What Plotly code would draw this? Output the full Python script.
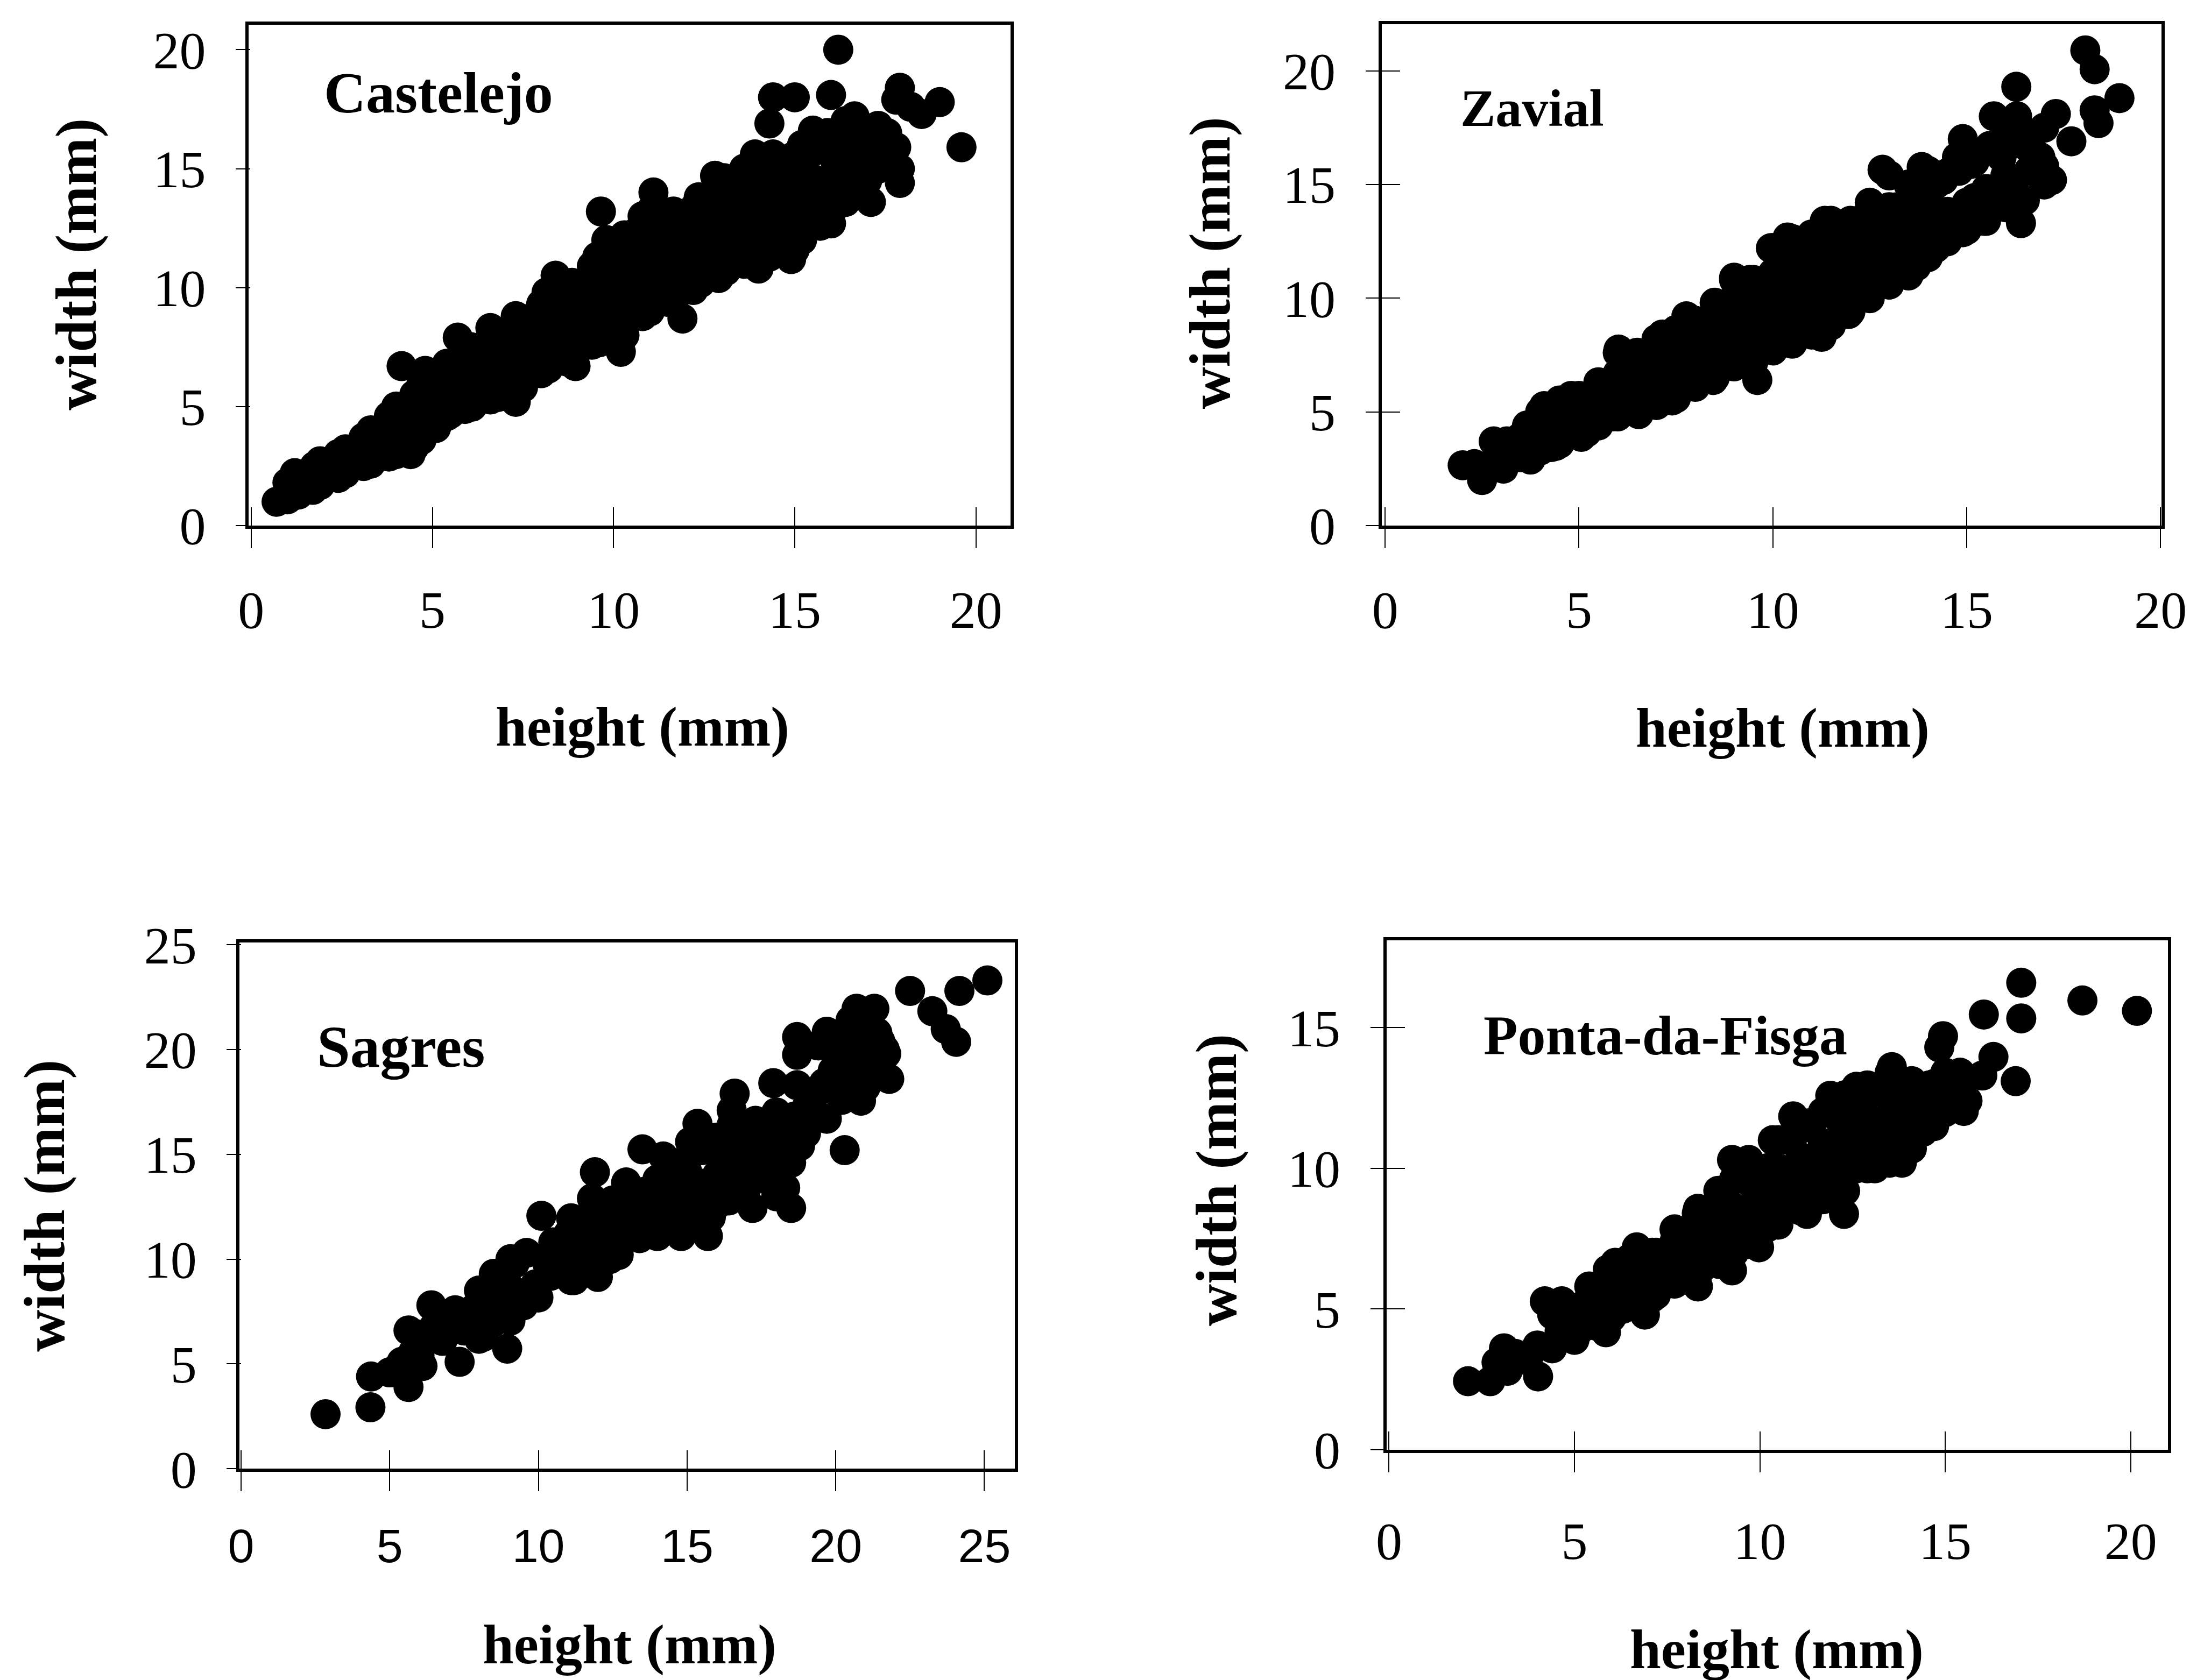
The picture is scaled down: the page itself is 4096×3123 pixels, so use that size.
import plotly.graph_objects as go

REF_W, REF_H = 4130, 3149
WIDTH, HEIGHT = 4096, 3123

# ---------- values ----------
castelejo_h = [16.2,19.6,14.4,15.0,16.0,14.3,17.9,17.8,19.0,18.5,18.2,17.9,17.9,17.1,16.0,14.9,14.0,11.9,10.2,8.95,7.3,5.1,4.4,
 4.15,4.8,5.7,6.6,7.3,8.4,9.65,9.8,11.1,10.8,12.8,13.6,13.9,14.4,15.5,16.65,17.0,17.5,
 0.7,1.0,1.0,1.0,1.2,1.7,1.7,1.75,2.4,2.45,2.4,3.1,3.05,3.1,3.8,3.75,3.8,4.5,4.55,4.5,5.2,5.15,5.2,5.9,5.95,5.9,6.6,6.55,6.6,7.3,7.3,
 7.35,8.0,8.05,8.0,8.7,8.7,8.65,9.4,9.35,9.4,10.1,10.1,10.15,10.8,10.8,10.85,11.5,11.45,11.5,12.2,12.2,12.25,12.9,12.85,12.9,13.6,13.6,13.65,
 14.3,14.3,14.25,15.0,15.0,14.95,15.7,15.65,15.7,16.4,16.35,16.4,17.0,17.05,17.6,17.55,13.0,12.5,11.9,11.0,9.0,8.3,7.0,6.2,5.5,
 1.3,1.35,1.9,1.95,1.9,2.6,2.65,2.6,3.3,3.35,3.3,3.3,4.0,4.05,4.0,4.0,4.7,4.75,4.7,4.7,5.4,5.45,5.4,5.4,
 6.1,6.15,6.1,6.1,6.05,6.8,6.85,6.8,6.8,6.75,7.5,7.55,7.5,7.5,7.45,8.2,8.25,8.2,8.2,8.15,8.9,8.95,8.9,8.9,8.85,
 9.6,9.65,9.6,9.6,9.55,10.3,10.35,10.3,10.3,10.25,10.3,11.0,11.05,11.0,11.0,10.95,11.0,11.7,11.75,11.7,11.7,11.65,
 12.4,12.45,12.4,12.4,12.35,13.1,13.15,13.1,13.1,13.05,13.8,13.85,13.8,13.8,13.75,14.5,14.55,14.5,14.5,15.2,15.25,15.2,15.2,
 15.9,15.95,15.9,16.6,16.65,16.6,17.3,17.3,9.0,10.0,11.0,12.0,13.0,14.0,15.0,
 5.0,5.0,5.0,5.7,5.7,5.7,6.4,6.4,6.4,7.1,7.1,7.1,7.8,7.8,7.8,8.5,8.5,8.5,9.1,9.1,9.1,9.9,9.9,9.9,
 10.6,10.6,10.6,10.6,11.3,11.3,11.3,11.3,12.0,12.0,12.0,12.0,12.6,12.6,12.6,12.6,13.3,13.3,13.3,13.3,14.0,14.0,14.0,14.0,
 14.7,14.7,14.7,14.7,15.4,15.4,15.4,15.4,16.1,16.1,16.1,16.1,16.8,16.8,16.8,17.4,17.4,17.8,15.2,16.3]
castelejo_w = [20.0,15.9,18.0,18.0,18.1,16.9,18.4,17.9,17.8,17.3,17.6,14.4,15.0,13.6,12.7,11.2,10.8,8.7,7.3,6.7,5.2,4.1,3.0,
 6.7,6.5,7.9,8.3,8.8,10.5,13.2,12.0,14.0,13.0,14.7,15.0,15.6,15.6,16.6,17.2,16.5,16.3,
 1.0,1.1,1.4,1.8,2.2,1.5,2.0,2.5,2.0,2.6,3.0,2.5,3.1,3.7,2.9,3.6,4.6,3.3,4.5,5.5,4.4,5.3,6.4,4.9,6.0,7.3,5.3,6.5,7.8,5.6,7.0,
 8.4,6.4,7.8,9.3,6.9,8.4,9.9,7.6,9.2,10.9,8.0,9.9,11.5,8.8,10.5,12.8,9.4,11.0,13.0,9.9,11.6,13.4,10.4,12.2,14.3,11.0,12.9,14.7,
 11.3,13.4,15.3,11.6,14.0,15.5,12.6,14.5,16.3,13.6,15.0,17.0,14.5,15.8,15.6,16.5,11.3,10.8,10.2,9.2,7.4,7.0,5.8,5.2,4.7,
 1.3,2.1,1.7,2.2,2.7,2.2,2.7,3.2,2.6,3.1,3.6,4.0,3.0,3.6,4.2,5.0,3.6,4.3,5.0,6.0,4.6,5.3,6.0,6.8,
 5.0,5.7,6.4,7.0,7.5,5.4,6.1,6.8,7.4,8.0,5.8,6.6,7.3,8.0,8.7,6.6,7.4,8.2,9.0,9.8,7.0,7.9,8.7,9.5,10.2,
 7.7,8.5,9.4,10.3,11.3,8.0,8.9,9.8,10.7,11.5,12.2,9.0,9.9,10.8,11.7,12.5,13.2,9.6,10.5,11.4,12.3,13.2,
 10.2,11.1,12.0,12.9,13.8,10.7,11.7,12.7,13.7,14.6,11.2,12.2,13.2,14.1,15.0,11.8,12.9,14.3,15.4,12.0,13.2,14.6,16.0,
 13.0,14.0,16.5,14.0,15.5,16.9,15.0,16.8,10.0,11.0,12.0,12.5,13.5,14.5,15.0,
 4.3,5.0,5.7,5.0,5.8,6.6,5.7,6.5,7.2,6.0,6.8,7.6,6.6,7.4,8.2,7.2,8.2,9.2,7.5,8.5,9.5,8.2,9.2,10.2,
 9.3,10.3,11.3,12.3,9.5,10.5,11.5,12.5,10.3,11.2,12.1,13.0,10.7,11.6,12.5,13.4,11.2,12.0,13.0,14.0,11.6,12.5,13.5,14.5,
 12.0,13.0,14.0,15.0,12.6,13.6,14.6,15.6,13.4,14.4,15.4,16.4,14.3,15.0,16.0,15.2,16.0,15.9,13.0,14.0]

zavial_h = [18.06,18.3,18.94,18.3,18.4,16.28,15.7,16.3,17.3,17.7,17.2,16.4,14.9,14.75,12.83,13.84,15.6,
 11.34,10.38,9.95,9.0,9.4,7.77,7.15,6.02,6.5,4.8,4.1,3.66,2.8,3.14,2.0,2.5,
 9.6,11.26,11.95,13.0,13.7,14.4,15.45,8.46,7.4,6.54,5.85,5.06,4.28,3.75,3.05,
 2.3,2.9,3.5,4.2,4.9,5.5,6.1,6.8,7.5,8.2,8.9,9.6,10.3,11.0,11.7,12.4,13.1,13.8,14.5,15.2,15.9,16.6,17.0,
 4.4,5.2,5.9,6.5,7.2,7.9,8.6,9.3,10.0,10.7,11.4,12.1,12.8,13.5,14.2,14.9,15.6,16.3,16.9,
 12.2,13.0,13.6,14.4,15.1,15.9,16.6,11.6,10.6,9.0,8.0,
 3.0,3.0,3.5,3.5,4.0,4.0,4.0,4.5,4.5,4.5,5.0,5.0,5.0,5.5,5.5,5.5,6.0,6.0,6.0,6.0,6.5,6.5,6.5,6.5,
 7.0,7.0,7.0,7.0,7.5,7.5,7.5,7.5,8.0,8.0,8.0,8.0,8.5,8.5,8.5,8.5,9.0,9.0,9.0,9.0,9.0,9.5,9.5,9.5,9.5,9.5,
 10.0,10.0,10.0,10.0,10.0,10.5,10.5,10.5,10.5,10.5,11.0,11.0,11.0,11.0,11.0,11.5,11.5,11.5,11.5,11.5,
 12.0,12.0,12.0,12.0,12.0,12.5,12.5,12.5,12.5,12.5,13.0,13.0,13.0,13.0,13.5,13.5,13.5,13.5,13.5,
 14.0,14.0,14.0,14.0,14.5,14.5,14.5,15.0,15.0,15.0,15.5,15.5,15.5,16.0,16.0,16.0,16.5,16.5,17.0,17.0,
 7.3,7.8,8.3,8.8,9.2,9.8,10.2,10.8,11.2,11.8,12.2,12.8,13.2,13.8,14.2,14.8,15.2,15.8,16.2,16.8,
 7.3,7.8,8.3,8.8,9.2,9.8,10.2,10.8,11.2,11.8,12.2,12.8,13.2,13.8,14.2,14.8,15.2,15.8,16.2,16.8]
zavial_w = [20.9,20.07,18.8,18.26,17.7,19.3,18.0,18.0,18.1,16.9,15.2,13.3,17.0,16.2,15.65,15.77,16.7,
 13.4,12.67,12.2,10.9,10.8,9.2,8.4,7.74,7.5,5.7,5.25,4.4,3.7,3.7,2.65,2.0,
 6.4,8.3,9.3,10.6,11.4,12.5,13.4,6.4,5.5,4.9,4.8,3.9,3.45,2.9,2.5,
 2.7,3.0,3.5,4.1,4.7,5.4,6.2,6.7,7.4,8.1,8.8,9.4,10.1,10.7,11.4,12.0,12.5,13.1,13.8,14.4,15.0,15.6,15.8,
 3.5,4.1,5.0,5.5,6.0,6.6,7.2,7.8,8.4,9.1,9.6,10.2,10.9,11.5,12.2,12.9,13.9,14.5,16.2,
 13.4,14.0,14.6,15.2,15.9,16.2,16.6,12.8,11.7,10.0,9.0,
 2.7,3.5,3.0,3.9,3.3,4.1,5.0,3.6,4.5,5.5,4.0,4.9,5.7,4.4,5.3,6.3,4.8,5.7,6.7,7.6,5.0,5.9,6.8,7.6,
 5.3,6.2,7.2,8.2,5.6,6.6,7.6,8.6,6.1,7.1,8.0,9.0,6.5,7.5,8.6,9.8,7.0,7.9,8.8,9.8,10.8,7.2,8.1,9.0,9.9,10.8,
 7.7,8.8,10.0,11.1,12.2,8.0,9.2,10.3,11.5,12.6,8.4,9.5,10.6,11.7,12.8,8.8,10.0,11.1,12.3,13.4,
 9.4,10.4,11.4,12.4,13.4,10.0,11.1,12.2,13.2,14.2,10.6,11.8,13.0,15.4,11.0,12.0,13.0,14.0,15.0,
 11.8,12.9,14.0,15.6,12.5,13.6,15.5,13.0,14.2,16.5,13.4,14.8,16.5,14.0,15.4,17.0,14.3,17.3,15.0,17.5,
 6.4,7.0,7.4,8.0,8.4,9.0,9.5,10.0,10.5,11.0,11.4,12.0,12.4,12.9,13.4,13.8,14.3,14.8,15.2,15.6,
 7.8,8.4,8.9,9.4,9.9,10.4,11.0,11.5,12.0,12.6,13.0,13.6,14.0,14.6,15.0,15.6,16.0,16.4,16.8,16.3]

sagres_h = [2.84,4.35,4.37,5.63,5.63,5.4,6.1,6.4,7.2,7.35,6.77,8.95,8.15,8.0,9.06,8.5,10.1,10.0,9.06,9.5,11.1,12.0,11.1,11.9,11.8,
 12.95,13.5,14.2,12.7,14.0,14.8,15.7,15.8,15.35,15.1,16.6,16.5,17.2,18.5,18.3,17.9,18.7,18.7,18.7,19.7,18.8,20.3,19.7,20.7,21.3,
 21.65,20.85,21.2,20.5,19.9,22.5,23.25,23.7,24.05,24.16,25.1,
 5.0,5.8,6.9,7.5,7.9,8.5,8.7,9.0,10.3,10.6,11.0,11.4,11.5,12.0,12.2,12.6,13.0,13.0,13.4,13.6,14.0,14.4,14.4,14.9,15.0,15.3,15.6,
 16.0,16.2,16.4,16.8,17.0,17.4,17.5,17.8,18.2,18.6,19.2,20.0,20.4,20.6,21.0,21.0,21.4,
 10.9,10.4,11.4,12.4,13.4,16.0,17.6,18.3,19.0,20.2,
 5.0,5.5,6.0,6.0,6.5,7.0,7.5,8.0,8.5,8.5,8.9,8.9,9.3,9.9,10.5,10.5,11.0,11.0,11.5,11.5,12.0,12.0,12.5,12.5,12.5,13.0,13.0,13.5,13.5,
 14.0,14.0,14.0,14.5,14.5,14.5,15.0,15.0,15.0,15.5,15.5,15.5,16.0,16.0,16.0,16.5,16.5,16.5,17.0,17.0,17.5,17.5,18.0,18.0,18.0,18.5,18.5,
 19.0,19.0,20.0,20.5,20.5,21.0,21.0,21.5,21.5,20.0,20.5,21.0,
 8.0,8.5,8.9,9.2,9.6,7.8,10.7,11.2,15.7,16.3,16.7,17.3,17.7,17.3,18.0,18.4,19.4,19.6,19.4,21.7,21.8,21.3,20.2]
sagres_w = [2.6,2.93,4.4,3.9,6.6,5.1,4.9,7.8,7.56,5.1,6.1,5.73,6.3,8.5,10.0,9.3,12.07,8.17,7.07,7.8,9.0,9.15,11.95,14.15,12.9,
 13.66,15.24,14.9,10.2,11.1,11.1,11.1,12.0,16.46,15.6,17.9,17.1,12.44,12.44,13.4,18.4,18.3,20.6,19.75,16.7,15.4,15.2,20.85,21.95,21.95,
 20.0,17.56,18.66,20.0,19.0,22.8,21.83,20.98,20.37,22.8,23.3,
 4.6,5.6,6.6,6.6,6.9,7.4,8.0,8.7,9.8,10.6,9.6,11.1,10.1,10.7,11.8,11.0,12.1,13.1,11.9,13.0,12.4,13.6,12.2,13.2,14.2,12.6,13.4,
 13.6,14.8,12.8,14.4,15.6,14.4,16.0,15.0,15.8,16.8,17.6,19.2,19.6,18.6,19.4,20.8,20.8,
 9.6,9.2,10.3,10.0,11.0,13.0,14.0,15.0,16.2,18.2,
 4.6,4.8,5.4,6.4,6.8,6.8,6.6,7.2,7.0,8.2,7.4,9.4,8.2,8.8,9.8,10.8,10.0,11.2,10.4,11.8,10.6,12.6,10.8,11.8,12.8,11.2,12.2,11.8,13.2,
 11.6,12.6,13.8,11.8,13.0,14.2,11.6,13.2,14.8,12.0,13.6,15.2,12.6,14.0,15.8,13.0,14.8,16.4,13.4,15.0,14.2,15.8,14.4,15.6,17.0,14.6,16.2,
 16.0,17.2,18.8,17.8,20.6,18.2,20.0,19.0,20.4,20.2,21.4,21.6,
 6.2,7.6,8.4,9.8,10.3,7.6,9.4,9.0,12.2,15.2,13.4,14.0,13.8,16.6,13.0,15.0,18.0,18.4,20.2,19.8,18.6,19.2,17.6]

fisga_h = [17.05,17.05,16.04,18.7,20.17,16.9,16.3,14.94,14.84,13.56,11.9,15.5,14.57,13.83,13.1,12.27,11.27,9.98,9.25,8.33,6.9,5.85,4.02,
 2.73,2.13,3.1,4.2,4.66,5.4,6.1,6.68,7.7,8.33,8.88,9.25,9.7,10.35,10.9,12.9,
 3.6,4.0,4.6,5.2,5.8,6.4,7.0,7.6,8.2,8.8,9.4,10.0,10.6,11.2,11.8,12.4,13.0,13.6,14.2,14.8,15.4,
 2.9,3.4,4.7,5.1,6.3,6.9,7.4,8.0,8.5,9.1,9.7,10.3,10.9,11.5,12.1,12.7,13.3,13.9,14.5,
 11.3,12.1,13.2,14.2,15.6,7.2,6.2,5.0,14.1,12.6,
 3.2,3.8,4.4,4.4,5.0,5.0,5.6,5.6,6.0,6.0,6.6,6.6,7.2,7.2,7.8,7.8,8.4,8.4,9.0,9.0,9.0,9.6,9.6,9.6,10.2,10.2,10.2,10.8,10.8,10.8,
 11.4,11.4,11.4,12.0,12.0,12.0,12.6,12.6,12.6,13.2,13.2,13.2,13.8,13.8,14.4,14.4,15.0,15.0,15.6,16.0,
 5.3,5.3,5.9,5.9,5.9,6.5,6.5,6.5,7.1,7.1,7.1,7.7,7.7,7.7,8.3,8.3,8.3,8.3,8.9,8.9,8.9,8.9,9.3,9.3,9.3,9.3,9.9,9.9,9.9,9.9,
 10.5,10.5,10.5,10.5,11.1,11.1,11.1,11.1,11.7,11.7,11.7,11.7,12.3,12.3,12.3,12.3,12.3,12.9,12.9,12.9,12.9,13.5,13.5,13.5,13.5,13.5,
 14.1,14.1,14.1,14.1,14.7,14.7,14.7,15.3,15.3]
fisga_w = [16.6,15.33,15.47,15.97,15.6,13.1,13.96,14.7,14.3,13.6,12.58,12.04,12.95,10.2,10.0,8.38,8.38,7.19,6.37,5.8,4.8,4.17,2.6,
 2.43,2.43,3.6,5.27,5.27,5.8,6.64,7.19,7.83,8.56,9.2,10.3,10.3,11.0,11.85,12.95,
 3.2,3.7,4.2,4.7,5.2,5.7,6.2,6.7,7.3,7.8,8.4,9.0,9.6,10.1,10.7,11.2,11.7,12.1,12.5,13.0,13.4,
 3.1,3.4,4.4,4.2,5.0,5.6,6.0,6.6,6.8,7.2,8.0,8.8,9.2,9.8,10.2,10.4,10.8,11.2,11.6,
 11.6,11.8,11.5,11.7,13.2,5.8,5.0,4.0,12.4,12.9,
 2.8,3.4,3.6,4.8,3.9,5.0,4.4,5.6,4.7,6.2,5.1,6.6,5.5,7.0,6.0,7.5,6.4,8.0,6.8,7.9,9.0,7.3,8.4,9.6,7.9,9.0,10.0,8.6,9.8,11.0,
 8.9,10.2,11.6,9.5,10.8,12.2,10.0,11.2,12.4,10.3,11.6,12.9,10.8,12.8,11.3,12.4,12.0,13.4,12.4,13.3,
 4.4,5.2,5.0,5.8,6.4,5.2,6.0,6.8,5.4,6.2,7.0,5.9,6.6,7.4,6.2,7.0,7.8,8.4,6.6,7.4,8.2,9.0,7.0,7.8,8.6,9.6,7.4,8.2,9.0,9.9,
 8.0,9.0,10.0,11.0,8.5,9.4,10.4,11.4,8.9,9.8,10.9,12.0,9.2,10.0,10.9,11.9,12.6,10.0,10.8,11.7,12.6,10.2,11.0,11.9,12.8,13.4,
 10.7,11.6,12.3,13.1,11.5,12.2,13.0,12.3,13.0]

panel_names = ["Castelejo", "Zavial", "Sagres", "Ponta-da-Fisga"]
panel_heights = [castelejo_h, zavial_h, sagres_h, fisga_h]
panel_widths = [castelejo_w, zavial_w, sagres_w, fisga_w]
x_title = "height (mm)"
y_title = "width (mm)"

# ---------- layout, in reference pixels ----------
boxes = [(466, 1894, 46, 985), (2589, 4050, 45, 985), (449, 1902, 1767, 2753), (2598, 4062, 1763, 2717)]
x_ranges = [(-0.07, 20.96), (-0.09, 20.02), (-0.05, 26.03), (-0.07, 21.0)]
y_ranges = [(0, 21.06), (0, 22.06), (0, 25.1), (0, 18.1)]
x_ticks = [[0,5,10,15,20], [0,5,10,15,20], [0,5,10,15,20,25], [0,5,10,15,20]]
y_ticks = [[0,5,10,15,20], [0,5,10,15,20], [0,5,10,15,20,25], [0,5,10,15]]
x_tick_fonts = ["Liberation Serif", "Liberation Serif", "Liberation Sans", "Liberation Serif"]
x_tick_sizes = [98, 98, 88, 98]
y_tick_len_in = [3, 34, 3, 34]
y_tick_len_out = [18, 24, 18, 24]
x_tick_standoff = [31, 31, 26, 44]
y_tick_standoff = [36, 36, 36, 36]
x_title_pos = [(1204, 1362), (3340, 1364), (1180, 3082), (3329, 3092)]
y_title_pos = [(143, 495), (2268, 493), (84, 2260), (2280, 2212)]
name_pos = [(822, 174), (2871, 203), (751, 1962), (3121, 1941)]
name_sizes = [108, 98, 111, 104]
MARKER = 56
LINE = 6
X_TITLE_SIZE = 104
Y_TITLE_SIZE = 108

def px(x): return x / REF_W
def py(y): return 1 - y / REF_H

fig = go.Figure()
layout = {}
annotations = []
for i in range(4):
    k = 2 * i + 1
    over = 2 * i + 2
    xa, ya = f"x{k}", f"y{k}"
    xo, yo = f"x{over}", f"y{over}"
    x0, x1, y0, y1 = boxes[i]
    dom_x = [px(x0), px(x1)]
    dom_y = [py(y1), py(y0)]
    fig.add_trace(go.Scatter(x=panel_heights[i], y=panel_widths[i], mode="markers", xaxis=xa, yaxis=ya,
                             marker=dict(size=MARKER, color="black"), showlegend=False, name=panel_names[i]))
    # empty trace: the overlay axes carry the inner half of the crossing ticks
    fig.add_trace(go.Scatter(x=[], y=[], xaxis=xo, yaxis=yo, showlegend=False))
    layout[f"xaxis{k}"] = dict(domain=dom_x, range=list(x_ranges[i]), anchor=ya, tickmode="array", tickvals=x_ticks[i],
        ticktext=[str(t) for t in x_ticks[i]], ticks="outside", ticklen=36, tickwidth=2, tickcolor="black", automargin=False,
        ticklabelstandoff=x_tick_standoff[i], tickfont=dict(family=x_tick_fonts[i], size=x_tick_sizes[i], color="black"),
        showline=True, linewidth=LINE, linecolor="black", mirror=True, showgrid=False, zeroline=False)
    layout[f"yaxis{k}"] = dict(domain=dom_y, range=list(y_ranges[i]), anchor=xa, tickmode="array", tickvals=y_ticks[i],
        ticktext=[str(t) for t in y_ticks[i]], ticks="outside", ticklen=y_tick_len_out[i], tickwidth=2, tickcolor="black", automargin=False,
        ticklabelstandoff=y_tick_standoff[i], tickfont=dict(family="Liberation Serif", size=98, color="black"),
        showline=True, linewidth=LINE, linecolor="black", mirror=True, showgrid=False, zeroline=False)
    layout[f"xaxis{over}"] = dict(domain=dom_x, range=list(x_ranges[i]), anchor=yo, overlaying=xa, tickmode="array", automargin=False,
        tickvals=x_ticks[i], ticks="inside", ticklen=34, tickwidth=2, tickcolor="black", showticklabels=False,
        showline=False, showgrid=False, zeroline=False)
    layout[f"yaxis{over}"] = dict(domain=dom_y, range=list(y_ranges[i]), anchor=xo, overlaying=ya, tickmode="array", automargin=False,
        tickvals=y_ticks[i], ticks="inside", ticklen=y_tick_len_in[i], tickwidth=2, tickcolor="black", showticklabels=False,
        showline=False, showgrid=False, zeroline=False)
    annotations.append(dict(text=f"<b>{x_title}</b>", x=px(x_title_pos[i][0]), y=py(x_title_pos[i][1]), xref="paper", yref="paper",
                            xanchor="center", yanchor="middle", showarrow=False,
                            font=dict(family="Liberation Serif", size=X_TITLE_SIZE, color="black")))
    annotations.append(dict(text=f"<b>{y_title}</b>", x=px(y_title_pos[i][0]), y=py(y_title_pos[i][1]), xref="paper", yref="paper",
                            xanchor="center", yanchor="middle", showarrow=False, textangle=-90,
                            font=dict(family="Liberation Serif", size=Y_TITLE_SIZE, color="black")))
    annotations.append(dict(text=f"<b>{panel_names[i]}</b>", x=px(name_pos[i][0]), y=py(name_pos[i][1]), xref="paper", yref="paper",
                            xanchor="center", yanchor="middle", showarrow=False,
                            font=dict(family="Liberation Serif", size=name_sizes[i], color="black")))

for i in range(4):
    if len(panel_heights[i]) != len(panel_widths[i]):
        print(panel_names[i], len(panel_heights[i]), len(panel_widths[i]))

fig.update_layout(width=WIDTH, height=HEIGHT, margin=dict(l=0, r=0, t=0, b=0), paper_bgcolor="white", plot_bgcolor="white",
                  showlegend=False, annotations=annotations, **layout)
fig.write_html("out.html", post_script="document.body.style.margin='0';", config={"displayModeBar": False})
